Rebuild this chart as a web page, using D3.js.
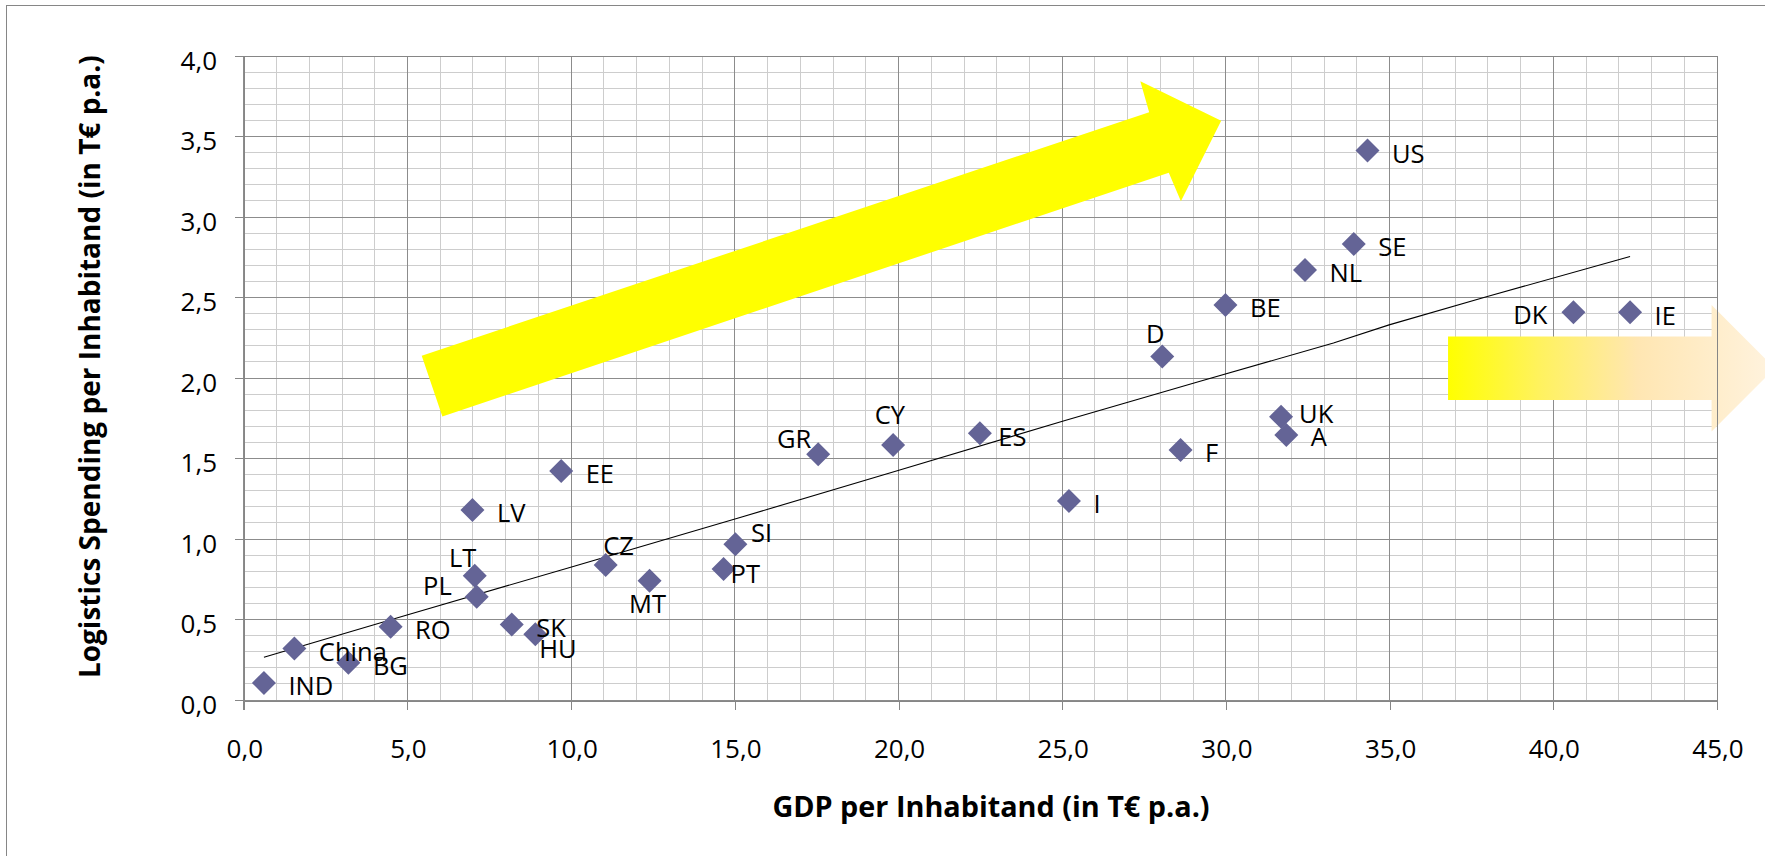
<!DOCTYPE html>
<html>
<head>
<meta charset="utf-8">
<script src="https://cdn.jsdelivr.net/npm/d3@7"></script>
<style>
  html, body { margin: 0; padding: 0; background: #ffffff; }
  svg { display: block; }
  text { font-family: "Open Sans", "Noto Sans", sans-serif; fill: #000; }
</style>
</head>
<body>
<svg id="chart" width="1765" height="856"></svg>
<script>
// ---------------- data ----------------
const countries = ["IND","China","BG","RO","LV","LT","PL","SK","HU","EE","CZ","MT","PT","SI","GR","CY","ES","I","F","D","BE","UK","A","NL","SE","US","DK","IE"];
const gdpPerInhabitant = [0.63,1.56,3.21,4.50,7.00,7.07,7.13,8.20,8.92,9.71,11.07,12.41,14.67,15.03,17.56,19.85,22.50,25.22,28.63,28.07,30.00,31.70,31.86,32.43,33.92,34.34,40.63,42.36];
const logisticsSpending = [0.103,0.317,0.228,0.452,1.177,0.769,0.638,0.466,0.406,1.420,0.835,0.738,0.810,0.965,1.523,1.581,1.654,1.233,1.549,2.130,2.451,1.756,1.643,2.668,2.829,3.410,2.405,2.405];

// trend line as drawn in the reference
const trendX = [0.63, 5.0, 10.0, 15.2, 20.0, 25.1, 29.2, 33.3, 35.0, 38.0, 42.36];
const trendY = [0.262, 0.525, 0.822, 1.132, 1.422, 1.733, 1.975, 2.214, 2.327, 2.503, 2.752];

const xTicks = [0,5,10,15,20,25,30,35,40,45];
const yTicks = [0,0.5,1,1.5,2,2.5,3,3.5,4];
const xTitle = "GDP per Inhabitand (in T€ p.a.)";
const yTitle = "Logistics Spending per Inhabitand (in T€ p.a.)";

// annotation arrows (in data units)
const growthArrowX = [5.45, 27.67, 27.40, 29.87, 28.64, 28.27, 6.08];
const growthArrowY = [2.135, 3.648, 3.840, 3.595, 3.094, 3.272, 1.758];
const flatArrowX = [36.80, 44.85, 44.85, 46.78, 44.85, 44.85, 36.80];
const flatArrowY = [2.255, 2.255, 2.451, 2.058, 1.664, 1.861, 1.861];

// ---------------- layout ----------------
const plot = { left: 243.3, right: 1716.5, top: 55.5, bottom: 699.5 };
const defaultLabel = { anchor: "start", dx: 24.5, dy: 12.3 };
const labelPlacement = {
  LT: { anchor: "end", dx: 1.5, dy: -8.4 },
  PL: { anchor: "end", dx: -25, dy: -1.7 },
  HU: { anchor: "start", dx: 4, dy: 24.3 },
  CZ: { anchor: "start", dx: -2.4, dy: -10 },
  MT: { anchor: "middle", dx: -2, dy: 32 },
  PT: { anchor: "start", dx: 7, dy: 13.7 },
  SI: { anchor: "start", dx: 15.7, dy: -2.6 },
  GR: { anchor: "end", dx: -7, dy: -6 },
  CY: { anchor: "middle", dx: -3.2, dy: -20.7 },
  ES: { anchor: "start", dx: 18.4, dy: 12.4 },
  D:  { anchor: "middle", dx: -7, dy: -13.4 },
  UK: { anchor: "start", dx: 18, dy: 6 },
  A:  { anchor: "start", dx: 24.3, dy: 10.7 },
  DK: { anchor: "end", dx: -26, dy: 12 }
};

const svg = d3.select("#chart");
const x = d3.scaleLinear().domain([0,45]).range([plot.left, plot.right]);
const y = d3.scaleLinear().domain([0,4]).range([plot.bottom, plot.top]);
const locale = d3.formatLocale({ decimal: ",", thousands: ".", grouping: [3], currency: ["", "€"] });
const fmt = locale.format(".1f");
const crisp = v => Math.round(v) + 0.5;

// outer chart border
svg.append("rect").attr("x", 6.5).attr("y", 5.5).attr("width", 1800).attr("height", 900)
  .attr("fill", "#fff").attr("stroke", "#868686").attr("stroke-width", 1);

// gradient for right arrow
const defs = svg.append("defs");
const grad = defs.append("linearGradient").attr("id", "flatGrad")
  .attr("x1", "0%").attr("x2", "100%").attr("y1", "0%").attr("y2", "0%");
grad.append("stop").attr("offset", "0%").attr("stop-color", "#FFFF00");
grad.append("stop").attr("offset", "28%").attr("stop-color", "#FFF25E");
grad.append("stop").attr("offset", "58%").attr("stop-color", "#FFE6B2");
grad.append("stop").attr("offset", "100%").attr("stop-color", "#FFF3DF");

// grid
const g = svg.append("g").attr("shape-rendering", "crispEdges");
const minorX = d3.range(1, 45).filter(v => v % 5 !== 0);
const minorY = d3.range(1, 40).filter(v => v % 5 !== 0).map(v => v / 10);
g.selectAll(".mx").data(minorX).join("line")
  .attr("x1", d => crisp(x(d))).attr("x2", d => crisp(x(d)))
  .attr("y1", plot.top).attr("y2", plot.bottom)
  .attr("stroke", "#CDCDCD").attr("stroke-width", 1);
g.selectAll(".my").data(minorY).join("line")
  .attr("y1", d => crisp(y(d))).attr("y2", d => crisp(y(d)))
  .attr("x1", plot.left).attr("x2", plot.right)
  .attr("stroke", "#CDCDCD").attr("stroke-width", 1);
g.selectAll(".Mx").data(xTicks).join("line")
  .attr("x1", d => crisp(x(d))).attr("x2", d => crisp(x(d)))
  .attr("y1", plot.top).attr("y2", plot.bottom)
  .attr("stroke", "#8C8C8C").attr("stroke-width", 1);
g.selectAll(".My").data(yTicks).join("line")
  .attr("y1", d => crisp(y(d))).attr("y2", d => crisp(y(d)))
  .attr("x1", plot.left).attr("x2", plot.right)
  .attr("stroke", "#8C8C8C").attr("stroke-width", 1);

// axes
const xAxis = d3.axisBottom(x).tickValues(xTicks).tickSize(9).tickFormat(fmt);
const yAxis = d3.axisLeft(y).tickValues(yTicks).tickSize(9).tickFormat(fmt);
const gx = svg.append("g").attr("transform", `translate(0,${crisp(plot.bottom)})`).call(xAxis);
const gy = svg.append("g").attr("transform", `translate(${crisp(plot.left)},0)`).call(yAxis);
[gx, gy].forEach(a => {
  a.select(".domain").attr("stroke", "#868686").attr("shape-rendering", "crispEdges");
  a.selectAll(".tick line").attr("stroke", "#868686").attr("shape-rendering", "crispEdges");
  a.selectAll(".tick text").attr("font-family", "'Open Sans', sans-serif").attr("font-size", 26).attr("fill", "#000");
});
gx.selectAll(".tick line").attr("transform", "translate(0.5,0)");
gx.selectAll(".tick text").attr("y", null).attr("dy", null).attr("transform", "translate(1,57.5)");
gy.selectAll(".tick text").attr("x", -26.5).attr("dy", null).attr("y", 13.5);

// arrows
const arrowPts = (xs, ys) => xs.map((v, i) => [x(v), y(ys[i])]);
svg.append("polygon").attr("points", arrowPts(growthArrowX, growthArrowY).map(p => p.join(",")).join(" "))
  .attr("fill", "#FFFF00");

// trend line
svg.append("path")
  .datum(trendX.map((v, i) => [v, trendY[i]]))
  .attr("d", d3.line().x(d => x(d[0])).y(d => y(d[1])))
  .attr("fill", "none").attr("stroke", "#000").attr("stroke-width", 1.1);

// points
const data = countries.map((c, i) => ({ c, gx: gdpPerInhabitant[i], ls: logisticsSpending[i] }));
const diamond = d3.symbol().type(d3.symbolSquare).size(288);
svg.selectAll(".pt").data(data).join("path")
  .attr("d", diamond)
  .attr("transform", d => `translate(${x(d.gx)},${y(d.ls)}) rotate(45)`)
  .attr("fill", "#646496");

// right arrow (drawn above the grid & markers)
svg.append("polygon").attr("points", arrowPts(flatArrowX, flatArrowY).map(p => p.join(",")).join(" "))
  .attr("fill", "url(#flatGrad)");

// labels
svg.selectAll(".lbl").data(data).join("text")
  .attr("x", d => x(d.gx) + (labelPlacement[d.c] || defaultLabel).dx)
  .attr("y", d => y(d.ls) + (labelPlacement[d.c] || defaultLabel).dy)
  .attr("text-anchor", d => (labelPlacement[d.c] || defaultLabel).anchor)
  .attr("font-size", 25.5)
  .text(d => d.c);

// axis titles
svg.append("text").attr("x", 991).attr("y", 816.7).attr("text-anchor", "middle")
  .attr("font-size", 28.8).attr("font-weight", "bold").text(xTitle);
svg.append("text").attr("transform", "translate(100,366.7) rotate(-90)").attr("text-anchor", "middle")
  .attr("font-size", 28).attr("font-weight", "bold").text(yTitle);

// plot area top/right border
svg.append("path").attr("d", `M${crisp(plot.left)},${crisp(plot.top)}H${crisp(plot.right)}V${crisp(plot.bottom)}`)
  .attr("fill", "none").attr("stroke", "#868686").attr("shape-rendering", "crispEdges");
</script>
</body>
</html>
